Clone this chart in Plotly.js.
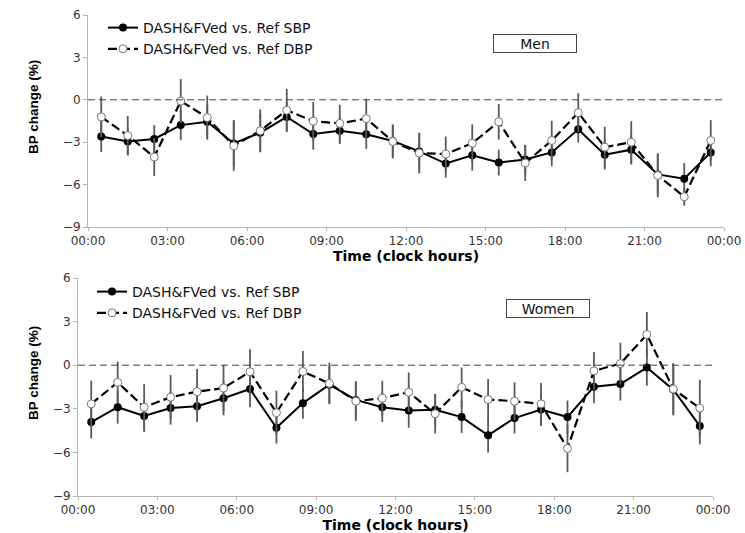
<!DOCTYPE html>
<html>
<head>
<meta charset="utf-8">
<script src="https://cdn.plot.ly/plotly-3.0.1.min.js"></script>
<style>
html,body{margin:0;padding:0;background:#fff;}
#chart{width:745px;height:533px;}
</style>
</head>
<body>
<div id="chart"></div>
<script>
// Clock hours (mid-hour positions)
const hours = [0.5,1.5,2.5,3.5,4.5,5.5,6.5,7.5,8.5,9.5,10.5,11.5,12.5,13.5,14.5,15.5,16.5,17.5,18.5,19.5,20.5,21.5,22.5,23.5];
const tickHours = [0,3,6,9,12,15,18,21,24];
const tickLabels = ["00:00","03:00","06:00","09:00","12:00","15:00","18:00","21:00","00:00"];

const sbpName = "DASH&FVed vs. Ref SBP";
const dbpName = "DASH&FVed vs. Ref DBP";

// Men
const menSBP = [-2.60,-2.95,-2.77,-1.79,-1.56,-3.09,-2.33,-1.21,-2.42,-2.19,-2.44,-2.91,-3.65,-4.51,-3.93,-4.44,-4.23,-3.72,-2.09,-3.88,-3.53,-5.28,-5.58,-3.72];
const menSBPerr = [1.10,0.98,0.98,1.05,1.16,1.65,1.37,1.05,1.11,0.93,1.03,1.15,1.28,1.00,1.07,0.91,1.04,0.98,0.93,1.05,1.05,1.47,1.11,0.98];
const menDBP = [-1.21,-2.53,-4.05,-0.09,-1.26,-3.26,-2.19,-0.74,-1.51,-1.67,-1.33,-2.95,-3.77,-3.84,-3.07,-1.56,-4.47,-2.88,-0.91,-3.35,-3.00,-5.35,-6.86,-2.88];
const menDBPerr = [1.44,1.39,1.35,1.56,1.56,1.79,1.52,1.51,1.35,1.32,1.40,1.20,1.44,1.24,1.33,1.26,1.27,1.39,1.38,1.44,1.49,1.56,0.63,1.44];

// Women
const womenSBP = [-3.91,-2.89,-3.50,-2.95,-2.82,-2.27,-1.64,-4.30,-2.61,-1.34,-2.39,-2.89,-3.11,-3.07,-3.57,-4.82,-3.64,-3.05,-3.57,-1.48,-1.30,-0.16,-1.68,-4.18];
const womenSBPerr = [1.14,1.13,1.09,1.14,1.09,1.18,1.25,1.09,1.07,1.27,1.28,1.02,1.19,1.09,1.09,1.18,1.06,1.13,1.14,1.13,1.13,1.25,1.77,1.27];
const womenDBP = [-2.66,-1.18,-2.89,-2.20,-1.82,-1.57,-0.45,-3.27,-0.43,-1.25,-2.48,-2.27,-1.86,-3.34,-1.52,-2.36,-2.48,-2.66,-5.73,-0.39,0.11,2.11,-1.64,-2.95];
const womenDBPerr = [1.59,1.43,1.59,1.52,1.55,1.59,1.54,1.52,1.41,1.43,1.36,1.20,1.36,1.36,1.36,1.41,1.30,1.43,1.63,1.30,1.44,1.55,1.78,1.95];

const errStyle = (arr) => ({type:'data', array:arr, visible:true, color:'#5a5a5a', thickness:1.8, width:0});

function sbpTrace(y, err, xa, ya, lg){
  return {x:hours, y:y, name:sbpName, type:'scatter', mode:'lines+markers',
    xaxis:xa, yaxis:ya, legend:lg,
    line:{color:'#000', width:2},
    marker:{symbol:'circle', size:8, color:'#000'},
    error_y:errStyle(err)};
}
function dbpTrace(y, err, xa, ya, lg){
  return {x:hours, y:y, name:dbpName, type:'scatter', mode:'lines+markers',
    xaxis:xa, yaxis:ya, legend:lg,
    line:{color:'#000', width:2.2, dash:'9px,4px'},
    marker:{symbol:'circle', size:8, color:'#fff', line:{color:'#777', width:1}},
    error_y:errStyle(err)};
}

const data = [
  sbpTrace(menSBP, menSBPerr, 'x', 'y', 'legend'),
  dbpTrace(menDBP, menDBPerr, 'x', 'y', 'legend'),
  sbpTrace(womenSBP, womenSBPerr, 'x2', 'y2', 'legend2'),
  dbpTrace(womenDBP, womenDBPerr, 'x2', 'y2', 'legend2')
];

const tickFont = {family:'DejaVu Sans, Verdana, sans-serif', size:12, color:'#333'};
const xTitleFont = {family:'DejaVu Sans, Verdana, sans-serif', size:14, color:'#000', weight:'bold'};

function xAxis(domain, anchor){
  return {domain:domain, anchor:anchor, range:[0,24], tickmode:'array', tickvals:tickHours, ticktext:tickLabels,
    showgrid:false, zeroline:false, showline:true, linecolor:'#b5b5b5', linewidth:1,
    ticks:'outside', ticklen:3, tickcolor:'#b5b5b5', tickfont:tickFont,
    title:{text:'Time (clock hours)', font:xTitleFont, standoff:1}};
}
function yAxis(domain, anchor){
  return {domain:domain, anchor:anchor, range:[-9,6], tickmode:'array', tickvals:[-9,-6,-3,0,3,6],
    showgrid:false, zeroline:false, showline:true, linecolor:'#b5b5b5', linewidth:1,
    ticks:'outside', ticklen:4, tickcolor:'#b5b5b5', tickfont:tickFont};
}

const legFont = {family:'DejaVu Sans, Verdana, sans-serif', size:14, color:'#111'};
const yTitleFont = {family:'Liberation Sans Narrow, Arial Narrow, sans-serif', size:13.5, color:'#000', weight:'bold'};
const boxFont = {family:'DejaVu Sans, Verdana, sans-serif', size:14, color:'#111'};

const layout = {
  width:745, height:533,
  margin:{l:0, r:0, t:0, b:0},
  paper_bgcolor:'#fff', plot_bgcolor:'#fff',
  showlegend:true,
  xaxis: xAxis([88/745, 724/745], 'y'),
  yaxis: yAxis([1-227/533, 1-15/533], 'x'),
  xaxis2: xAxis([78/745, 713/745], 'y2'),
  yaxis2: yAxis([1-496/533, 1-278/533], 'x2'),
  legend:{x:103/745, y:1-12/533, xanchor:'left', yanchor:'top', bgcolor:'rgba(0,0,0,0)', font:legFont, tracegroupgap:0, itemwidth:30},
  legend2:{x:92/745, y:1-276/533, xanchor:'left', yanchor:'top', bgcolor:'rgba(0,0,0,0)', font:legFont, tracegroupgap:0, itemwidth:30},
  shapes:[
    {type:'line', xref:'x domain', yref:'y', x0:0, x1:1, y0:0, y1:0, line:{color:'#444', width:1, dash:'7px,4px'}},
    {type:'line', xref:'x2 domain', yref:'y2', x0:0, x1:1, y0:0, y1:0, line:{color:'#444', width:1, dash:'7px,4px'}}
  ],
  annotations:[
    {text:'Men', xref:'paper', yref:'paper', x:535/745, y:1-43.5/533, xanchor:'center', yanchor:'middle', showarrow:false, font:boxFont,
      bordercolor:'#444', borderwidth:1, borderpad:1, width:80, height:15, bgcolor:'#fff'},
    {text:'Women', xref:'paper', yref:'paper', x:548/745, y:1-308.5/533, xanchor:'center', yanchor:'middle', showarrow:false, font:boxFont,
      bordercolor:'#444', borderwidth:1, borderpad:1, width:80, height:15, bgcolor:'#fff'},
    {text:'BP change (%)', xref:'paper', yref:'paper', x:33/745, y:1-107/533, xanchor:'center', yanchor:'middle', showarrow:false, textangle:-90, font:yTitleFont},
    {text:'BP change (%)', xref:'paper', yref:'paper', x:33/745, y:1-373/533, xanchor:'center', yanchor:'middle', showarrow:false, textangle:-90, font:yTitleFont}
  ]
};

Plotly.newPlot('chart', data, layout, {displayModeBar:false, staticPlot:true});
</script>
</body>
</html>
